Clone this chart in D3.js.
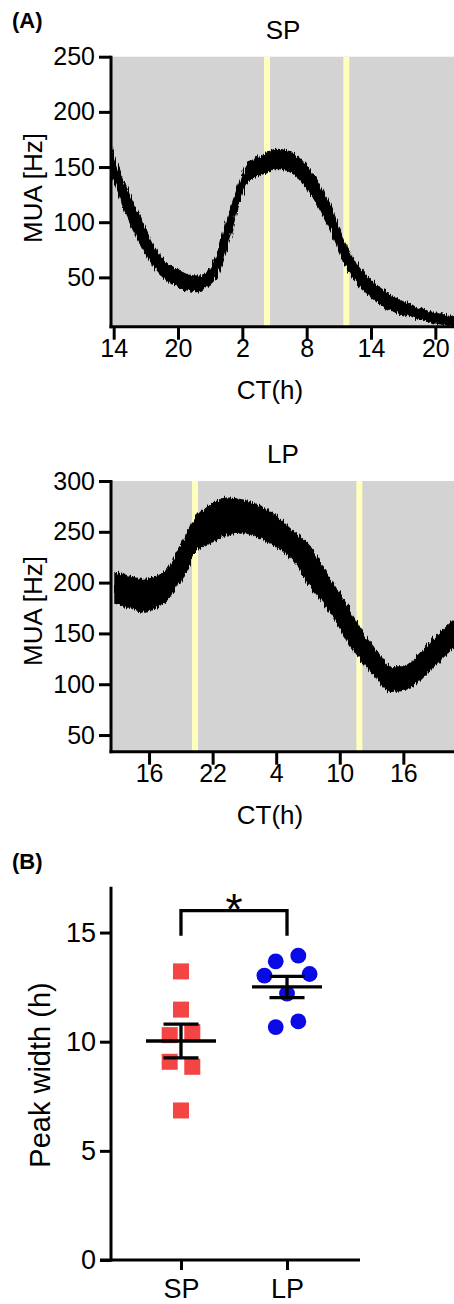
<!DOCTYPE html>
<html>
<head>
<meta charset="utf-8">
<script src="https://cdn.jsdelivr.net/npm/d3@7"></script>
<style>
  body { margin: 0; background: #fff; }
  svg { display: block; font-family: "Liberation Sans", Arial, Helvetica, sans-serif; }
</style>
</head>
<body>
<div id="chart"></div>
<script>
// SP recording: circadian time (h, running), top and bottom of the noisy trace (Hz)
var spHours = [13.75, 14.43, 15.05, 15.99, 16.92, 17.85, 18.8, 19.72, 20.96, 21.9, 22.7, 23.6, 24.5, 25.5, 26.4, 27.3, 28.3, 29.2, 30.4, 31.7, 32.9, 34.2, 35.7, 37.6, 39.5, 41.6, 43.8, 45.74];
var spHigh  = [168, 149, 134, 113, 94, 76, 64, 58, 52, 51, 54, 69, 100, 129, 151, 158, 163, 166, 164, 154, 139, 115, 78, 51, 36, 25, 18, 14];
var spLow   = [146, 128, 110, 91, 73, 58, 49, 43, 38.5, 37, 42, 51, 75, 111, 136, 142, 145, 149, 146, 136, 118, 93, 60, 36, 22, 15, 9, 6];
var spLights = [28.3, 35.7];
var spXTicks = [14, 20, 26, 32, 38, 44];
var spYTicks = [50, 100, 150, 200, 250];

// LP recording
var lpHours = [12.79, 14.2, 15.46, 16.7, 17.67, 18.6, 19.56, 20.5, 21.76, 23.3, 24.9, 26.5, 28.05, 29.3, 31.2, 33.1, 35.0, 36.2, 37.5, 38.74, 40.0, 41.26, 42.5, 43.77, 44.78];
var lpHigh  = [210, 206, 203, 206, 212, 229, 249, 265, 276, 283, 281, 275, 265, 253, 235, 203, 172, 150, 132, 117, 117, 127, 140, 153, 163];
var lpLow   = [180, 175, 171, 176, 183, 196, 212, 232, 239, 247, 249, 244, 235, 226, 197, 172, 138, 122, 106, 93, 94, 101, 114, 127, 137];
var lpLights = [20.34, 35.85];
var lpXTicks = [16, 22, 28, 34, 40];
var lpYTicks = [50, 100, 150, 200, 250, 300];

// panel B: peak width (h) per animal
var groups = ["SP", "LP"];
var spPeak = [13.22, 11.47, 10.30, 10.45, 9.08, 8.85, 6.85];
var lpPeak = [13.68, 13.94, 13.03, 13.10, 12.20, 10.67, 10.93];
var peakTicks = [0, 5, 10, 15];
var bracket = [16, 14.85];

var svg = d3.select("#chart")
  .append("svg")
  .attr("width", 454)
  .attr("height", 1304);

svg.append("rect").attr("width", 454).attr("height", 1304).attr("fill", "#fff");

// rough edge for the recorded traces
var filt = svg.append("defs").append("filter")
  .attr("id", "rough")
  .attr("x", "-5%").attr("y", "-20%").attr("width", "110%").attr("height", "140%");
filt.append("feTurbulence")
  .attr("type", "fractalNoise")
  .attr("baseFrequency", "0.7 0.04")
  .attr("numOctaves", 2)
  .attr("seed", 3)
  .attr("result", "noise");
filt.append("feDisplacementMap")
  .attr("in", "SourceGraphic")
  .attr("in2", "noise")
  .attr("scale", 7)
  .attr("xChannelSelector", "G")
  .attr("yChannelSelector", "R");

function styleAxis(g, size) {
  g.attr("font-family", null).attr("font-size", size);
  g.select(".domain").remove();
  g.selectAll("line").attr("stroke", "#000").attr("stroke-width", 3);
  g.selectAll("text").attr("fill", "#000").style("font-size", size + "px");
}

function tracePanel(p) {
  var x = d3.scaleLinear().domain(p.xDomain).range([111, 454]);
  var y = d3.scaleLinear().domain(p.yDomain).range([p.bottom, p.top]);

  var clipId = "clip-" + p.title;
  svg.append("clipPath").attr("id", clipId)
    .append("rect")
    .attr("x", 111).attr("y", p.top)
    .attr("width", 454 - 111).attr("height", p.bottom - p.top);

  svg.append("rect")
    .attr("x", 111).attr("y", p.top)
    .attr("width", 454 - 111).attr("height", p.bottom - p.top)
    .attr("fill", "#d3d3d3");

  svg.append("g").selectAll("line")
    .data(p.lights)
    .enter()
    .append("line")
    .attr("x1", d => x(d)).attr("x2", d => x(d))
    .attr("y1", p.top).attr("y2", p.bottom)
    .attr("stroke", "#ffffbe")
    .attr("stroke-width", 6);

  var area = d3.area()
    .x((d, i) => x(p.hours[i]))
    .y0((d, i) => y(p.low[i]))
    .y1((d, i) => y(p.high[i]))
    .curve(d3.curveMonotoneX);

  svg.append("g")
    .attr("clip-path", "url(#" + clipId + ")")
    .append("path")
    .datum(p.hours)
    .attr("filter", "url(#rough)")
    .attr("d", area)
    .attr("fill", "#000")
    .attr("stroke", "#000")
    .attr("stroke-width", 1.5)
    .attr("stroke-linejoin", "round");

  var gx = svg.append("g")
    .attr("transform", `translate(0, ${p.bottom})`)
    .call(d3.axisBottom(x).tickValues(p.xTicks).tickFormat(d => d % 24).tickSize(13).tickPadding(0));
  styleAxis(gx, 25);

  var gy = svg.append("g")
    .attr("transform", "translate(111, 0)")
    .call(d3.axisLeft(y).tickValues(p.yTicks).tickSize(12).tickPadding(4));
  styleAxis(gy, 25);

  svg.append("line")
    .attr("x1", 111).attr("x2", 111).attr("y1", p.top - 1).attr("y2", p.bottom + 1.5)
    .attr("stroke", "#000").attr("stroke-width", 3);
  svg.append("line")
    .attr("x1", 109.5).attr("x2", 454).attr("y1", p.bottom).attr("y2", p.bottom)
    .attr("stroke", "#000").attr("stroke-width", 3);

  svg.append("text")
    .attr("x", 283).attr("y", p.top - 18)
    .attr("text-anchor", "middle")
    .style("font-size", "26px")
    .text(p.title);

  svg.append("text")
    .attr("x", 270).attr("y", p.bottom + 72)
    .attr("text-anchor", "middle")
    .style("font-size", "26px")
    .text("CT(h)");

  svg.append("text")
    .attr("transform", `translate(42, ${p.labelY}) rotate(-90)`)
    .attr("text-anchor", "middle")
    .style("font-size", "26px")
    .text("MUA [Hz]");
}

tracePanel({
  title: "SP", top: 56.7, bottom: 326.7,
  xDomain: [13.75, 45.74], yDomain: [5.3, 250],
  hours: spHours, high: spHigh, low: spLow,
  lights: spLights, xTicks: spXTicks, yTicks: spYTicks, labelY: 188
});

tracePanel({
  title: "LP", top: 481, bottom: 751.7,
  xDomain: [12.41, 44.78], yDomain: [33.6, 300],
  hours: lpHours, high: lpHigh, low: lpLow,
  lights: lpLights, xTicks: lpXTicks, yTicks: lpYTicks, labelY: 611
});

svg.append("text").attr("x", 12).attr("y", 28)
  .style("font-size", "22px").style("font-weight", "bold").text("(A)");
svg.append("text").attr("x", 12).attr("y", 869)
  .style("font-size", "22px").style("font-weight", "bold").text("(B)");

// Panel B
var yB = d3.scaleLinear().domain([0, 17.1]).range([1260, 886.7]);
var xB = d3.scalePoint().domain(groups).range([111, 357]).padding(0.66);

// spread animals with close values sideways, widening when they would overlap
function spread(values, cx) {
  var placed = [];
  var step = 11.3, minDist = 15.5;
  var i = 0;
  while (i < values.length) {
    var grp = [values[i]];
    while (i + grp.length < values.length &&
           Math.abs(values[i + grp.length] - values[i + grp.length - 1]) < 0.5) {
      grp.push(values[i + grp.length]);
    }
    var k = 1, pts;
    while (true) {
      pts = grp.map((v, j) => ({ v: v, x: cx + (j - (grp.length - 1) / 2) * 2 * step * k, y: yB(v) }));
      var hit = pts.some(a => placed.some(b => Math.hypot(a.x - b.x, a.y - b.y) < minDist));
      if (!hit || grp.length < 2 || k > 3) break;
      k++;
    }
    placed = placed.concat(pts);
    i += grp.length;
  }
  return placed;
}

var spPts = spread(spPeak, xB("SP"));
var lpPts = spread(lpPeak, xB("LP"));

svg.append("g").selectAll("rect")
  .data(spPts)
  .enter()
  .append("rect")
  .attr("x", d => d.x - 8).attr("y", d => d.y - 8)
  .attr("width", 16).attr("height", 16)
  .attr("fill", "#f44444");

svg.append("g").selectAll("circle")
  .data(lpPts)
  .enter()
  .append("circle")
  .attr("cx", d => d.x).attr("cy", d => d.y)
  .attr("r", 7.9)
  .attr("fill", "#0a0ae6");

[["SP", spPeak], ["LP", lpPeak]].forEach(function(g) {
  var cx = xB(g[0]);
  var m = d3.mean(g[1]);
  var sem = d3.deviation(g[1]) / Math.sqrt(g[1].length);
  var s = svg.append("g").attr("stroke", "#000").attr("stroke-width", 3.3);
  s.append("line").attr("x1", cx - 35).attr("x2", cx + 35).attr("y1", yB(m)).attr("y2", yB(m));
  s.append("line").attr("x1", cx).attr("x2", cx).attr("y1", yB(m - sem)).attr("y2", yB(m + sem));
  s.append("line").attr("x1", cx - 17.5).attr("x2", cx + 17.5).attr("y1", yB(m + sem)).attr("y2", yB(m + sem));
  s.append("line").attr("x1", cx - 17.5).attr("x2", cx + 17.5).attr("y1", yB(m - sem)).attr("y2", yB(m - sem));
});

svg.append("path")
  .attr("d", `M${xB("SP")},${yB(bracket[1])}V${yB(bracket[0])}H${xB("LP")}V${yB(bracket[1])}`)
  .attr("fill", "none").attr("stroke", "#000").attr("stroke-width", 3.3);

svg.append("text")
  .attr("x", (xB("SP") + xB("LP")) / 2).attr("y", yB(bracket[0]) + 14)
  .attr("text-anchor", "middle")
  .style("font-size", "44px")
  .text("*");

var gyB = svg.append("g")
  .attr("transform", "translate(111, 0)")
  .call(d3.axisLeft(yB).tickValues(peakTicks).tickSize(11).tickPadding(4));
styleAxis(gyB, 27);

var gxB = svg.append("g")
  .attr("transform", "translate(0, 1260)")
  .call(d3.axisBottom(xB).tickSize(10).tickPadding(8.5));
styleAxis(gxB, 27);

svg.append("line")
  .attr("x1", 111).attr("x2", 111).attr("y1", 886.7).attr("y2", 1261.5)
  .attr("stroke", "#000").attr("stroke-width", 3);
svg.append("line")
  .attr("x1", 100).attr("x2", 360).attr("y1", 1260).attr("y2", 1260)
  .attr("stroke", "#000").attr("stroke-width", 3);

svg.append("text")
  .attr("transform", "translate(50, 1075) rotate(-90)")
  .attr("text-anchor", "middle")
  .style("font-size", "29px")
  .text("Peak width (h)");
</script>
</body>
</html>
